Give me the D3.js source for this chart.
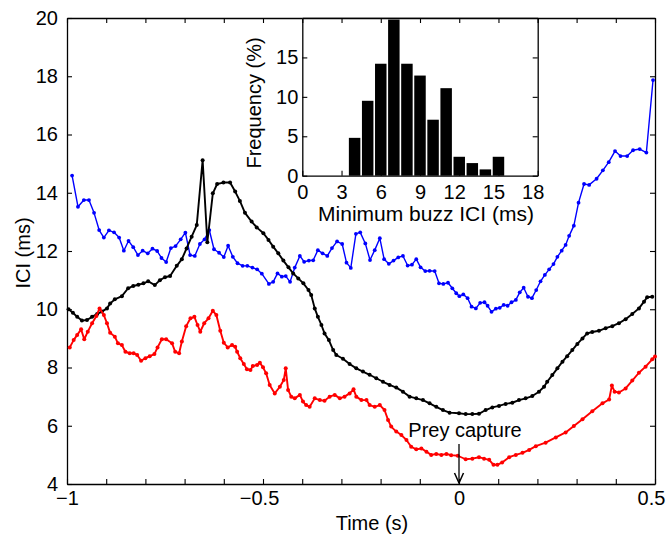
<!DOCTYPE html>
<html>
<head>
<meta charset="utf-8">
<script src="https://cdnjs.cloudflare.com/ajax/libs/d3/7.8.5/d3.min.js"></script>
<style>
  body { margin: 0; background: #fff; }
  text { font-family: "Liberation Sans", Arial, sans-serif; }
</style>
</head>
<body>
<svg id="chart" width="668" height="539"></svg>
<script>
// ICI traces: [time (s), ICI (ms)]
var blueData = [
  [-0.987,14.59],[-0.972,13.52],[-0.957,13.75],[-0.944,13.75],[-0.931,13.31],[-0.918,12.72],[-0.906,12.46],[-0.893,12.71],
  [-0.880,12.64],[-0.867,12.46],[-0.855,12.01],[-0.843,12.35],[-0.831,12.13],[-0.819,11.86],[-0.807,12.01],[-0.794,11.92],
  [-0.782,12.08],[-0.770,12.00],[-0.759,11.76],[-0.747,11.62],[-0.735,12.10],[-0.723,12.17],[-0.710,12.40],[-0.698,12.63],
  [-0.686,11.86],[-0.674,11.83],[-0.661,12.24],[-0.649,12.40],[-0.637,12.72],[-0.625,12.06],[-0.612,11.94],[-0.600,11.79],
  [-0.589,12.18],[-0.577,11.80],[-0.565,11.58],[-0.552,11.49],[-0.540,11.49],[-0.527,11.43],[-0.515,11.37],[-0.503,11.22],
  [-0.485,10.87],[-0.474,10.94],[-0.463,11.23],[-0.452,11.12],[-0.442,11.14],[-0.431,10.94],[-0.419,11.43],[-0.406,11.83],
  [-0.395,11.63],[-0.383,11.67],[-0.372,11.68],[-0.360,12.03],[-0.348,11.92],[-0.336,11.83],[-0.324,12.10],[-0.311,12.33],
  [-0.298,12.24],[-0.287,11.60],[-0.276,11.42],[-0.263,12.59],[-0.252,12.64],[-0.239,12.26],[-0.227,11.69],[-0.215,12.03],
  [-0.202,12.44],[-0.191,11.72],[-0.179,11.56],[-0.167,11.67],[-0.155,11.78],[-0.143,11.83],[-0.131,11.50],[-0.120,11.53],
  [-0.109,11.72],[-0.098,11.44],[-0.086,11.31],[-0.075,11.32],[-0.062,11.31],[-0.051,10.89],[-0.040,10.87],[-0.028,10.91],
  [-0.017,10.72],[-0.007,10.55],[0.001,10.45],[0.011,10.51],[0.022,10.38],[0.032,10.09],[0.043,10.03],[0.054,10.22],
  [0.065,10.24],[0.073,10.12],[0.083,9.91],[0.094,10.02],[0.104,10.05],[0.114,10.15],[0.124,10.12],[0.134,10.24],
  [0.145,10.32],[0.155,10.58],[0.165,10.74],[0.176,10.43],[0.186,10.38],[0.197,10.66],[0.208,10.96],[0.219,11.18],
  [0.230,11.37],[0.241,11.55],[0.251,11.80],[0.262,12.01],[0.272,12.21],[0.281,12.52],[0.293,12.87],[0.305,13.66],
  [0.319,14.30],[0.332,14.27],[0.351,14.48],[0.367,14.77],[0.382,15.05],[0.398,15.43],[0.412,15.26],[0.429,15.26],
  [0.444,15.46],[0.461,15.50],[0.478,15.38],[0.495,17.87]
];

var blackData = [
  [-0.996,10.00],[-0.985,9.88],[-0.974,9.74],[-0.962,9.61],[-0.949,9.63],[-0.936,9.74],[-0.923,9.84],[-0.911,9.92],
  [-0.898,10.03],[-0.890,10.20],[-0.878,10.34],[-0.860,10.45],[-0.844,10.72],[-0.831,10.80],[-0.818,10.84],[-0.805,10.89],
  [-0.793,10.96],[-0.776,10.83],[-0.763,11.00],[-0.750,11.10],[-0.737,11.14],[-0.720,11.49],[-0.707,11.72],[-0.695,12.09],
  [-0.682,12.49],[-0.669,12.89],[-0.654,15.12],[-0.642,12.30],[-0.628,13.98],[-0.617,14.30],[-0.601,14.35],[-0.584,14.35],
  [-0.571,14.04],[-0.559,13.72],[-0.546,13.31],[-0.529,13.01],[-0.516,12.81],[-0.499,12.61],[-0.486,12.38],[-0.474,12.15],
  [-0.461,11.92],[-0.448,11.67],[-0.435,11.44],[-0.423,11.23],[-0.410,11.06],[-0.397,10.89],[-0.384,10.66],[-0.377,10.49],
  [-0.368,10.03],[-0.360,9.74],[-0.351,9.46],[-0.343,9.17],[-0.332,8.94],[-0.321,8.60],[-0.313,8.43],[-0.296,8.30],
  [-0.279,8.12],[-0.262,7.97],[-0.245,7.86],[-0.228,7.75],[-0.211,7.63],[-0.194,7.51],[-0.177,7.40],[-0.160,7.31],
  [-0.143,7.17],[-0.126,7.00],[-0.109,6.94],[-0.092,6.88],[-0.075,6.77],[-0.058,6.65],[-0.041,6.54],[-0.024,6.45],
  [0.000,6.43],[0.017,6.40],[0.034,6.40],[0.051,6.41],[0.068,6.54],[0.085,6.63],[0.102,6.68],[0.119,6.75],
  [0.136,6.79],[0.153,6.88],[0.170,6.94],[0.187,7.02],[0.204,7.17],[0.217,7.34],[0.225,7.51],[0.238,7.74],
  [0.251,7.97],[0.264,8.20],[0.276,8.39],[0.289,8.60],[0.302,8.81],[0.315,9.00],[0.327,9.17],[0.340,9.22],
  [0.357,9.26],[0.374,9.35],[0.391,9.42],[0.408,9.52],[0.425,9.66],[0.442,9.84],[0.459,10.03],[0.472,10.26],
  [0.480,10.41],[0.493,10.43]
];

var redData = [
  [-0.993,8.69],[-0.983,8.94],[-0.974,9.12],[-0.964,9.31],[-0.956,8.97],[-0.947,9.23],[-0.936,9.52],[-0.925,9.77],
  [-0.917,10.03],[-0.906,9.80],[-0.898,9.52],[-0.890,9.19],[-0.878,9.06],[-0.870,8.83],[-0.860,8.77],[-0.851,8.54],
  [-0.840,8.49],[-0.830,8.49],[-0.821,8.43],[-0.811,8.23],[-0.800,8.32],[-0.789,8.39],[-0.777,8.46],[-0.769,8.69],
  [-0.758,8.97],[-0.747,8.97],[-0.732,8.83],[-0.724,8.54],[-0.714,8.49],[-0.707,8.89],[-0.696,9.42],[-0.685,9.69],
  [-0.675,9.74],[-0.667,9.46],[-0.660,9.23],[-0.650,9.52],[-0.639,9.69],[-0.628,9.95],[-0.619,9.80],[-0.609,9.26],
  [-0.600,8.85],[-0.590,8.69],[-0.579,8.77],[-0.571,8.71],[-0.566,8.54],[-0.558,8.32],[-0.549,8.12],[-0.541,7.94],
  [-0.532,7.91],[-0.526,8.05],[-0.515,8.09],[-0.508,8.16],[-0.500,8.01],[-0.492,7.80],[-0.483,7.40],[-0.470,7.11],
  [-0.457,7.34],[-0.447,7.57],[-0.442,7.97],[-0.436,7.23],[-0.428,7.00],[-0.419,6.94],[-0.406,7.06],[-0.398,6.83],
  [-0.390,6.71],[-0.381,6.65],[-0.368,6.94],[-0.355,6.88],[-0.343,6.86],[-0.330,7.00],[-0.317,7.06],[-0.304,6.94],
  [-0.292,7.00],[-0.279,7.11],[-0.269,7.25],[-0.262,7.00],[-0.249,6.88],[-0.236,6.88],[-0.228,6.71],[-0.215,6.65],
  [-0.202,6.71],[-0.190,6.54],[-0.181,6.20],[-0.173,5.97],[-0.160,5.80],[-0.147,5.68],[-0.134,5.51],[-0.122,5.28],
  [-0.109,5.19],[-0.096,5.22],[-0.083,5.11],[-0.071,5.00],[-0.058,5.03],[-0.045,5.00],[-0.032,5.03],[-0.020,4.99],
  [-0.003,4.97],[0.017,4.85],[0.034,4.87],[0.051,4.92],[0.064,4.87],[0.077,4.83],[0.088,4.66],[0.098,4.66],
  [0.110,4.74],[0.128,4.92],[0.145,5.00],[0.162,5.07],[0.179,5.17],[0.196,5.30],[0.221,5.42],[0.247,5.60],
  [0.272,5.77],[0.293,5.99],[0.315,6.22],[0.340,6.50],[0.366,6.77],[0.383,6.90],[0.390,7.38],[0.397,7.17],
  [0.408,7.14],[0.425,7.28],[0.442,7.55],[0.459,7.82],[0.476,8.03],[0.493,8.28],[0.500,8.38]
];

// main axes ticks
var xTicks = [-1,-0.9,-0.8,-0.7,-0.6,-0.5,-0.4,-0.3,-0.2,-0.1,0,0.1,0.2,0.3,0.4,0.5];
var xLabels = {"-1": "\u22121", "-0.5": "\u22120.5", "0": "0", "0.5": "0.5"};
var yTicks = [4,6,8,10,12,14,16,18,20];

// inset histogram: minimum buzz ICI (ms), frequency (%)
var binCenters = [4,5,6,7,8,9,10,11,12,13,14,15];
var binFreq = [4.8,9.5,14.2,19.8,14.2,12.7,7.1,11.1,2.4,1.6,0.8,2.4];
var insetXTicks = [0,3,6,9,12,15,18];
var insetYTicks = [0,5,10,15];

var svg = d3.select('#chart');
var fontSize = '20px';

var x = d3.scaleLinear().domain([-1, 0.5]).range([67, 655]);
var y = d3.scaleLinear().domain([4, 20]).range([484, 18]);

function styleAxis(g) {
  g.select('.domain').attr('stroke', '#000').attr('stroke-width', 1.3);
  g.selectAll('.tick line').attr('stroke', '#000').attr('stroke-width', 1.1);
  g.selectAll('.tick text').attr('fill', '#000').style('font-size', fontSize);
}

// longer labels sit a little left of their tick in the original
// (but keep the corner label clear of the "4" on the y axis)
function shiftLabels(g, px) {
  g.selectAll('.tick text').attr('dx', function(d) {
    var n = this.textContent.length;
    return (n > 2 || (n > 1 && d > 0)) ? -px : 0;
  });
}

// main axes (ticks inside, box all round)
svg.append('g').attr('transform', 'translate(0,484)')
  .call(d3.axisBottom(x).tickValues(xTicks).tickSize(-5).tickSizeOuter(0).tickPadding(7)
    .tickFormat(function(d) { return xLabels[String(d)] || ''; }))
  .call(styleAxis)
  .call(shiftLabels, 4);
svg.append('g').attr('transform', 'translate(0,18)')
  .call(d3.axisTop(x).tickValues(xTicks).tickSize(-5).tickSizeOuter(0).tickFormat(''))
  .call(styleAxis);
svg.append('g').attr('transform', 'translate(67,0)')
  .call(d3.axisLeft(y).tickValues(yTicks).tickSize(-5).tickSizeOuter(0).tickPadding(9))
  .call(styleAxis);
svg.append('g').attr('transform', 'translate(655,0)')
  .call(d3.axisRight(y).tickValues(yTicks).tickSize(-5).tickSizeOuter(0).tickFormat(''))
  .call(styleAxis);

// traces
var line = d3.line().x(function(d) { return x(d[0]); }).y(function(d) { return y(d[1]); });

function add_trace(data, colour, width, radius) {
  var g = svg.append('g');
  g.append('path').datum(data)
    .attr('d', line)
    .attr('fill', 'none')
    .attr('stroke', colour)
    .attr('stroke-width', width)
    .attr('stroke-linejoin', 'round');
  g.selectAll('circle')
    .data(data)
    .enter()
    .append('circle')
    .attr('cx', function(d) { return x(d[0]); })
    .attr('cy', function(d) { return y(d[1]); })
    .attr('r', radius)
    .attr('fill', colour);
}
add_trace(blueData, '#0000ff', 1.4, 1.9);
add_trace(blackData, '#000000', 1.9, 2.0);
add_trace(redData, '#ff0000', 1.9, 2.0);

// prey capture marker
svg.append('text')
  .attr('x', 465).attr('y', 437)
  .attr('text-anchor', 'middle')
  .style('font-size', fontSize)
  .text('Prey capture');
svg.append('line')
  .attr('x1', x(0)).attr('x2', x(0))
  .attr('y1', 444).attr('y2', y(4) - 1)
  .attr('stroke', '#000').attr('stroke-width', 1.3);
svg.append('path')
  .attr('d', 'M' + (x(0) - 4.5) + ',' + (y(4) - 11) + 'L' + x(0) + ',' + (y(4) - 1) + 'L' + (x(0) + 4.5) + ',' + (y(4) - 11))
  .attr('fill', 'none').attr('stroke', '#000').attr('stroke-width', 1.5);

// axis titles
svg.append('text')
  .attr('x', 372).attr('y', 530)
  .attr('text-anchor', 'middle')
  .style('font-size', fontSize)
  .text('Time (s)');
svg.append('text')
  .attr('transform', 'translate(30,253) rotate(-90)')
  .attr('text-anchor', 'middle')
  .style('font-size', fontSize)
  .text('ICI (ms)');

// inset histogram
var xi = d3.scaleLinear().domain([0, 18]).range([302.3, 537.7]);
var yi = d3.scaleLinear().domain([0, 20]).range([175.7, 18]);

svg.append('rect')
  .attr('x', xi(0)).attr('y', yi(20))
  .attr('width', xi(18) - xi(0)).attr('height', yi(0) - yi(20))
  .attr('fill', '#fff');

svg.append('g').selectAll('rect')
  .data(binCenters)
  .enter()
  .append('rect')
  .attr('x', function(d) { return xi(d - 0.5) + 0.8; })
  .attr('width', function(d) { return xi(d + 0.5) - xi(d - 0.5) - 1.6; })
  .attr('y', function(d, i) { return yi(binFreq[i]); })
  .attr('height', function(d, i) { return yi(0) - yi(binFreq[i]); })
  .attr('fill', '#000');

svg.append('g').attr('transform', 'translate(0,' + yi(0) + ')')
  .call(d3.axisBottom(xi).tickValues(insetXTicks).tickSize(-5).tickSizeOuter(0).tickPadding(9))
  .call(styleAxis)
  .call(shiftLabels, 5);
svg.append('g').attr('transform', 'translate(0,' + yi(20) + ')')
  .call(d3.axisTop(xi).tickValues(insetXTicks).tickSize(-5).tickSizeOuter(0).tickFormat(''))
  .call(styleAxis);
svg.append('g').attr('transform', 'translate(' + xi(0) + ',0)')
  .call(d3.axisLeft(yi).tickValues(insetYTicks).tickSize(-5).tickSizeOuter(0).tickPadding(4))
  .call(styleAxis);
svg.append('g').attr('transform', 'translate(' + xi(18) + ',0)')
  .call(d3.axisRight(yi).tickValues(insetYTicks).tickSize(-5).tickSizeOuter(0).tickFormat(''))
  .call(styleAxis);

svg.append('text')
  .attr('x', 426).attr('y', 221)
  .attr('text-anchor', 'middle')
  .style('font-size', '21px')
  .text('Minimum buzz ICI (ms)');
svg.append('text')
  .attr('transform', 'translate(261,103) rotate(-90)')
  .attr('text-anchor', 'middle')
  .style('font-size', fontSize)
  .text('Frequency (%)');
</script>
</body>
</html>
